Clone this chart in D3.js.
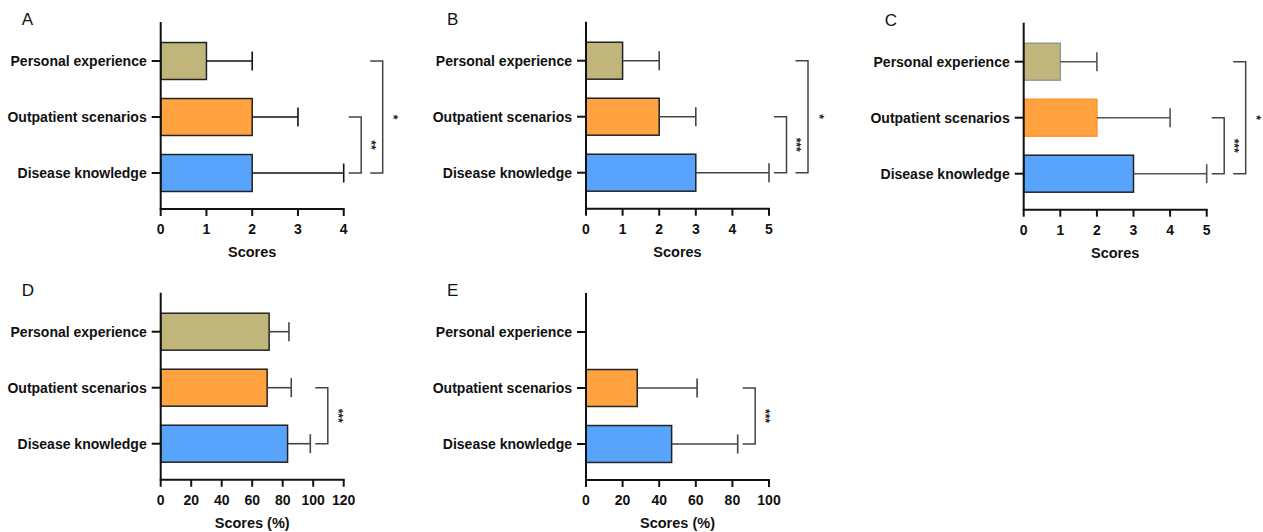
<!DOCTYPE html>
<html>
<head>
<meta charset="utf-8">
<script src="https://cdn.jsdelivr.net/npm/d3@7"></script>
<style>
  body { margin: 0; background: #fff; }
  svg { display: block; font-family: "Liberation Sans", Arial, sans-serif; }
  .cat-label { font-size: 14px; font-weight: bold; fill: #111; }
  .tick-label { font-size: 14px; font-weight: bold; fill: #111; }
  .axis-title { font-size: 14.5px; font-weight: bold; fill: #111; }
  .panel-letter { font-size: 17px; fill: #111; }
  .sig-text { font-size: 12px; font-weight: bold; fill: #222; }
</style>
</head>
<body>
<div id="chart"></div>
<script>
const categories = ["Personal experience", "Outpatient scenarios", "Disease knowledge"];
const panelLetters = ["A", "B", "C", "D", "E"];
const axisTitles = ["Scores", "Scores", "Scores", "Scores (%)", "Scores (%)"];

// mean values per category (same order as categories)
const meansA = [1, 2, 2];
const meansB = [1, 2, 3];
const meansC = [1, 2, 3];
const meansD = [71.1, 69.8, 83.2];
const meansE = [0, 28.0, 46.8];

// SD (upper error bar length)
const sdA = [1, 1, 2];
const sdB = [1, 1, 2];
const sdC = [1, 2, 2];
const sdD = [13.0, 15.8, 14.9];
const sdE = [0, 32.7, 36.1];

const ticksA = [0, 1, 2, 3, 4];
const ticksB = [0, 1, 2, 3, 4, 5];
const ticksC = [0, 1, 2, 3, 4, 5];
const ticksD = [0, 20, 40, 60, 80, 100, 120];
const ticksE = [0, 20, 40, 60, 80, 100];

// significance brackets: [from index, to index, label]
const sigA = [[1, 2, "**"], [0, 2, "*"]];
const sigB = [[1, 2, "***"], [0, 2, "*"]];
const sigC = [[1, 2, "***"], [0, 2, "*"]];
const sigD = [[1, 2, "***"]];
const sigE = [[1, 2, "***"]];

const fills = ["#C0B67C", "#FFA23F", "#58A3FB"];

const W = 1263, H = 532;
const plotW = 183, plotH = 187;

const panels = [
  {letter: panelLetters[0], title: axisTitles[0], means: meansA, sd: sdA, ticks: ticksA, sig: sigA, ox: 160.7, oy: 22, errColor: "#111"},
  {letter: panelLetters[1], title: axisTitles[1], means: meansB, sd: sdB, ticks: ticksB, sig: sigB, ox: 586, oy: 21.7, errColor: "#444"},
  {letter: panelLetters[2], title: axisTitles[2], means: meansC, sd: sdC, ticks: ticksC, sig: sigC, ox: 1023.7, oy: 22.7, errColor: "#555",
   strokes: ["#9a9a8a", "#FF9430", "#222"]},
  {letter: panelLetters[3], title: axisTitles[3], means: meansD, sd: sdD, ticks: ticksD, sig: sigD, ox: 160.7, oy: 292.7, errColor: "#444"},
  {letter: panelLetters[4], title: axisTitles[4], means: meansE, sd: sdE, ticks: ticksE, sig: sigE, ox: 586, oy: 293, errColor: "#444"}
];

const svg = d3.select("#chart").append("svg")
  .attr("width", W).attr("height", H)
  .attr("viewBox", `0 0 ${W} ${H}`);

panels.forEach(p => {
  const g = svg.append("g").attr("transform", `translate(${p.ox},${p.oy})`);

  const x = d3.scaleLinear().domain([0, d3.max(p.ticks)]).range([0, plotW]);
  const y = d3.scaleBand().domain(categories).range([11, 179]).paddingInner(0.34).paddingOuter(0.17);
  const rows = categories.map((c, i) => ({cat: c, mean: p.means[i], sd: p.sd[i], i}));

  // bars
  g.selectAll(".bar").data(rows.filter(d => d.mean > 0)).enter().append("rect")
    .attr("x", x(0))
    .attr("y", d => y(d.cat))
    .attr("width", d => x(d.mean) - x(0))
    .attr("height", y.bandwidth())
    .attr("fill", d => fills[d.i])
    .attr("stroke", d => p.strokes ? p.strokes[d.i] : "#222")
    .attr("stroke-width", 1.5);

  // error bars
  const eb = g.selectAll(".err").data(rows.filter(d => d.sd > 0)).enter().append("g")
    .attr("stroke", p.errColor).attr("stroke-width", 1.6);
  eb.append("line")
    .attr("x1", d => x(d.mean)).attr("x2", d => x(d.mean + d.sd))
    .attr("y1", d => y(d.cat) + y.bandwidth() / 2).attr("y2", d => y(d.cat) + y.bandwidth() / 2);
  eb.append("line")
    .attr("x1", d => x(d.mean + d.sd)).attr("x2", d => x(d.mean + d.sd))
    .attr("y1", d => y(d.cat) + y.bandwidth() / 2 - 9.5).attr("y2", d => y(d.cat) + y.bandwidth() / 2 + 9.5);

  // axes
  g.append("line").attr("x1", 0).attr("x2", 0).attr("y1", 0).attr("y2", plotH)
    .attr("stroke", "#111").attr("stroke-width", 2);
  g.append("line").attr("x1", -1).attr("x2", plotW + 1).attr("y1", plotH).attr("y2", plotH)
    .attr("stroke", "#111").attr("stroke-width", 2);

  // x ticks
  const xt = g.selectAll(".xt").data(p.ticks).enter().append("g")
    .attr("transform", d => `translate(${x(d)},${plotH})`);
  xt.append("line").attr("y1", 0).attr("y2", 7).attr("stroke", "#111").attr("stroke-width", 2);
  xt.append("text").attr("class", "tick-label").attr("y", 25).attr("text-anchor", "middle").text(d => d);

  // y ticks + labels
  const yt = g.selectAll(".yt").data(categories).enter().append("g")
    .attr("transform", d => `translate(0,${y(d) + y.bandwidth() / 2})`);
  yt.append("line").attr("x1", -9).attr("x2", 0).attr("stroke", "#111").attr("stroke-width", 2);
  yt.append("text").attr("class", "cat-label").attr("x", -14).attr("dy", "0.35em")
    .attr("text-anchor", "end").text(d => d);

  // axis title
  g.append("text").attr("class", "axis-title").attr("x", plotW / 2).attr("y", 235)
    .attr("text-anchor", "middle").text(p.title);

  // panel letter
  g.append("text").attr("class", "panel-letter").attr("x", -139).attr("y", 3).text(p.letter);

  // significance brackets
  const maxEnd = d3.max(rows, d => d.mean + d.sd);
  let armStart = x(maxEnd) + 5;
  p.sig.forEach(([a, b, label]) => {
    const y1 = y(categories[a]) + y.bandwidth() / 2;
    const y2 = y(categories[b]) + y.bandwidth() / 2;
    const vx = armStart + 12.5;
    g.append("path")
      .attr("d", `M${armStart},${y1}H${vx}V${y2}H${armStart}`)
      .attr("fill", "none").attr("stroke", "#444").attr("stroke-width", 1.5);
    const lx = vx + (label === "*" ? 11 : 10);
    g.append("text").attr("class", "sig-text")
      .attr("transform", `translate(${lx},${(y1 + y2) / 2}) rotate(90)`)
      .attr("text-anchor", "middle").attr("dy", "0.35em")
      .text(label);
    armStart = vx + 9;
  });
});
</script>
</body>
</html>
